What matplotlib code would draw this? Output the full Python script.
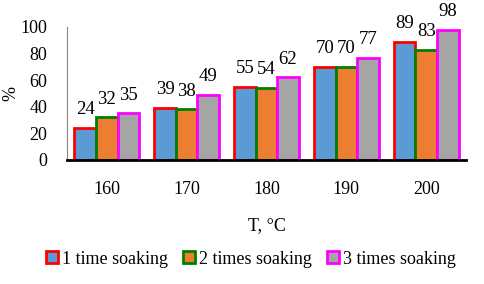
import numpy as np
import matplotlib.pyplot as plt

temps = ['160', '170', '180', '190', '200']
once = [24, 39, 55, 70, 89]
twice = [32, 38, 54, 70, 83]
thrice = [35, 49, 62, 77, 98]
series_names = ['1 time soaking', '2 times soaking', '3 times soaking']

plt.rcParams['font.family'] = ['Liberation Serif', 'DejaVu Serif']
plt.rcParams['font.size'] = 13

fig = plt.figure(figsize=(4.84, 2.84), dpi=100)
ax = fig.add_axes([0.138, 0.437, 0.825, 0.468])

x = np.arange(len(temps))
w = 0.27
fills = ['#5B9BD5', '#ED7D31', '#A5A5A5']
edges = ['#FF0000', '#008000', '#FF00FF']
for i, vals in enumerate([once, twice, thrice]):
    bars = ax.bar(x + (i - 1) * w, vals, w, color=fills[i], edgecolor=edges[i],
                  linewidth=2, label=series_names[i])
    ax.bar_label(bars, padding=7, fontsize=13.5)

ax.set_xlim(-0.5, 4.5)
ax.set_ylim(0, 100)
ax.set_yticks(range(0, 101, 20))
ax.set_xticks(x)
ax.set_xticklabels(temps)
ax.tick_params(axis='both', length=0)
ax.tick_params(axis='y', pad=14)
ax.tick_params(axis='x', pad=15)
ax.spines['top'].set_visible(False)
ax.spines['right'].set_visible(False)
ax.spines['left'].set_color('#888888')
ax.spines['left'].set_linewidth(0.8)
ax.spines['bottom'].set_linewidth(2)
ax.set_ylabel('%')
ax.yaxis.set_label_coords(-0.12, 0.5)
ax.set_xlabel('T, °C', labelpad=14)

ax.legend(loc='upper center', bbox_to_anchor=(0.461, -0.56), ncol=3, frameon=False,
          handlelength=0.66, handleheight=0.66, handletextpad=0.2, columnspacing=0.85)

fig.savefig('out.png', dpi=100)
